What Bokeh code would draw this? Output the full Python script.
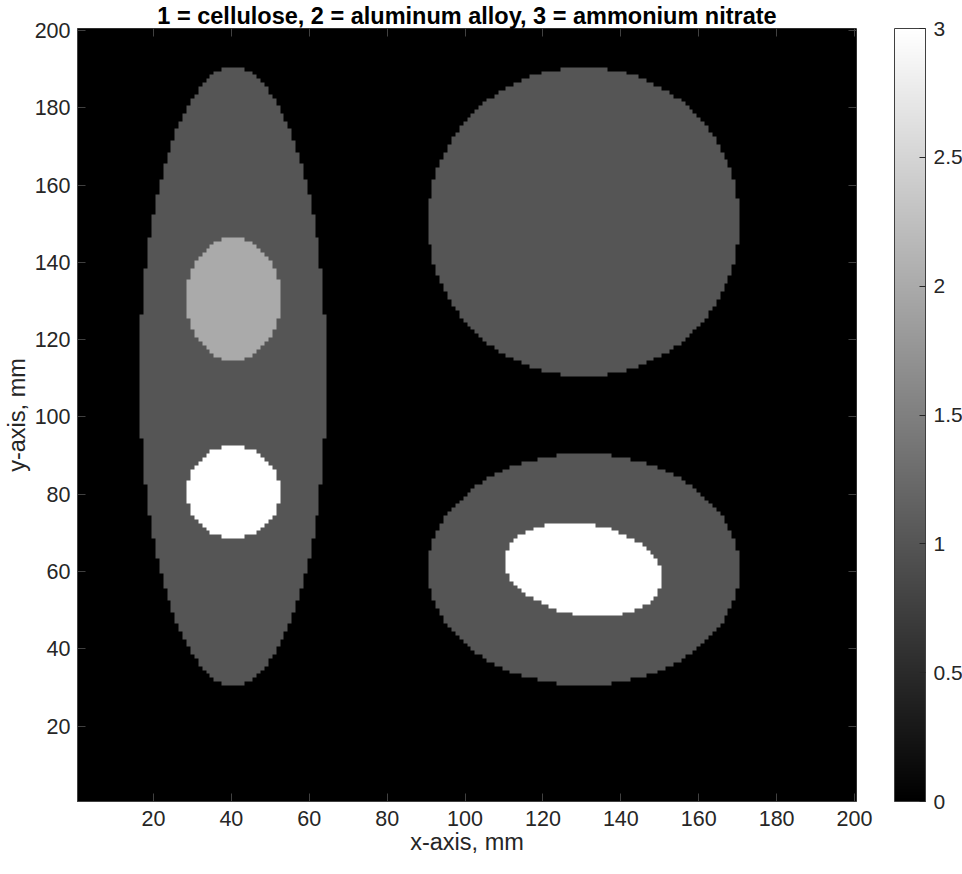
import numpy as np
from bokeh.plotting import figure
from bokeh.models import (LinearColorMapper, ColorBar, LinearAxis, FixedTicker,
                          Range1d)
from bokeh.embed import file_html
from bokeh.resources import INLINE

# ---- data: phantom made of filled ellipses on a 200 x 200 mm grid ----
grid_nx = 200
grid_ny = 200
# shapes painted in this order (later ones cover earlier ones)
shape_cx = [40.5, 130.5, 130.5, 40.5, 40.5, 130.5]
shape_cy = [110.5, 150.5, 60.5, 130.5, 80.5, 60.5]
shape_a = [24.0, 40.0, 40.0, 12.0, 12.0, 20.3]
shape_b = [80.0, 40.0, 30.0, 16.0, 12.0, 11.8]
shape_angle_deg = [0, 0, 0, 0, 0, -10]
shape_value = [1, 1, 1, 2, 3, 3]

axis_ticks = [20, 40, 60, 80, 100, 120, 140, 160, 180, 200]
cbar_ticks = [0, 0.5, 1, 1.5, 2, 2.5, 3]
cbar_labels = ["0", "0.5", "1", "1.5", "2", "2.5", "3"]

title_text = "1 = cellulose, 2 = aluminum alloy, 3 = ammonium nitrate"
x_label = "x-axis, mm"
y_label = "y-axis, mm"

# ---- rasterise ----
xs = np.arange(1, grid_nx + 1)
ys = np.arange(1, grid_ny + 1)
X, Y = np.meshgrid(xs, ys)
Z = np.zeros((grid_ny, grid_nx))
for cx, cy, a, b, ang, v in zip(shape_cx, shape_cy, shape_a, shape_b,
                                shape_angle_deg, shape_value):
    t = np.deg2rad(ang)
    dx = X - cx
    dy = Y - cy
    u = dx * np.cos(t) + dy * np.sin(t)
    w = -dx * np.sin(t) + dy * np.cos(t)
    Z[(u / a) ** 2 + (w / b) ** 2 <= 1.0] = v

gray = ["#%02x%02x%02x" % (i, i, i) for i in range(256)]
mapper = LinearColorMapper(palette=gray, low=0, high=3)

FONT = "Liberation Sans"
TXT = "#262626"
AX = "#404040"
FH = 773

p = figure(frame_width=779, frame_height=FH,
           x_range=Range1d(0.5, 200.5), y_range=Range1d(0.5, 200.5),
           output_backend="svg", toolbar_location=None,
           min_border_left=69, min_border_right=98,
           min_border_top=20, min_border_bottom=58,
           background_fill_color="white", border_fill_color="white")

p.image(image=[Z], x=0.5, y=0.5, dw=grid_nx, dh=grid_ny, color_mapper=mapper)

p.grid.visible = False
p.outline_line_color = AX
p.outline_line_width = 1

p.title.text = title_text
p.title.align = "center"
p.title.text_font = FONT
p.title.text_font_size = "23.5px"
p.title.text_font_style = "bold"
p.title.text_color = "#000000"
p.title.standoff = 0

for ax in (p.xaxis[0], p.yaxis[0]):
    ax.ticker = FixedTicker(ticks=axis_ticks)
    ax.major_tick_in = 8
    ax.major_tick_out = 0
    ax.minor_tick_line_color = None
    ax.major_tick_line_color = AX
    ax.axis_line_color = AX
    ax.major_label_text_font = FONT
    ax.major_label_text_font_size = "21.5px"
    ax.major_label_text_color = TXT
    ax.axis_label_text_font = FONT
    ax.axis_label_text_font_size = "23.5px"
    ax.axis_label_text_font_style = "normal"
    ax.axis_label_text_color = TXT

p.xaxis[0].axis_label = x_label
p.yaxis[0].axis_label = y_label
p.xaxis[0].major_label_standoff = 9
p.xaxis[0].axis_label_standoff = 0
p.yaxis[0].major_label_standoff = 7
p.yaxis[0].axis_label_standoff = 2

# mirrored tick marks on top and right (box on), without labels
for loc in ("above", "right"):
    ax = LinearAxis(ticker=FixedTicker(ticks=axis_ticks))
    ax.major_tick_in = 8
    ax.major_tick_out = 0
    ax.minor_tick_line_color = None
    ax.major_tick_line_color = AX
    ax.axis_line_color = None
    ax.major_label_overrides = {t: "" for t in axis_ticks}
    ax.major_label_text_font_size = "21.5px"
    ax.major_label_standoff = 0
    p.add_layout(ax, loc)

cbar = ColorBar(color_mapper=mapper, ticker=FixedTicker(ticks=cbar_ticks),
                major_label_overrides={t: s for t, s in zip(cbar_ticks, cbar_labels)},
                width=31, height=FH, location=(38, 0), padding=0, margin=0,
                major_label_text_font=FONT, major_label_text_font_size="21px",
                major_label_text_color=TXT, major_tick_in=6, major_tick_out=0,
                major_tick_line_color=TXT, minor_tick_line_color=None,
                bar_line_color=AX, label_standoff=8,
                background_fill_color=None, border_line_color=None)
p.add_layout(cbar, "right")

open("out.html", "w").write(file_html(p, INLINE))
